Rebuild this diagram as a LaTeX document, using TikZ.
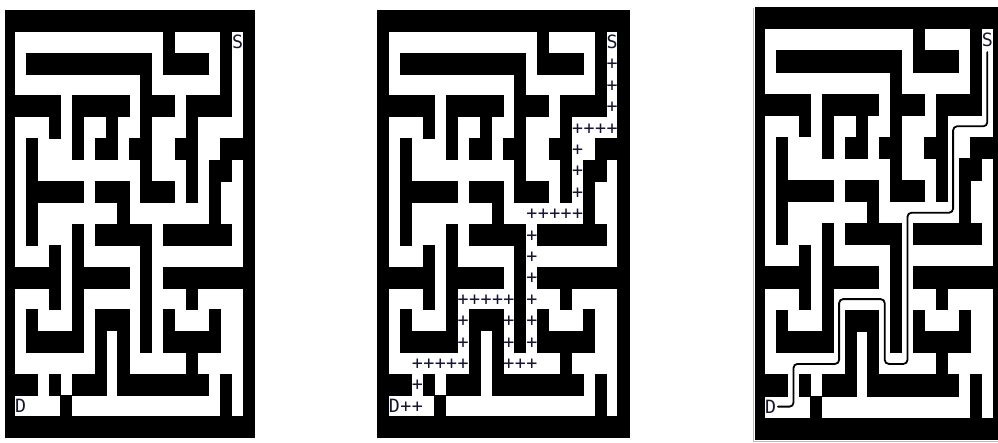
\documentclass[tikz,border=0pt]{standalone}
\usepackage{fontspec}
\newfontfamily\mazefont{DejaVu Sans Mono}
\definecolor{ink}{RGB}{22,22,48}
\newcommand\mazerows{%
0/{0,...,21},%
1/{0,14,19,21},%
2/{0,2,3,4,5,6,7,8,9,10,11,12,14,15,16,17,19,21},%
3/{0,12,19,21},%
4/{0,1,2,3,4,6,7,8,9,10,12,13,14,16,17,18,19,21},%
5/{0,4,6,9,12,16,21},%
6/{0,2,6,8,9,11,12,15,16,19,20,21},%
7/{0,2,12,16,18,19,21},%
8/{0,2,3,4,5,6,8,9,10,12,13,14,16,18,21},%
9/{0,2,10,18,21},%
10/{0,2,6,8,9,10,11,12,14,15,16,17,18,19,21},%
11/{0,4,6,12,21},%
12/{0,1,2,3,4,6,7,8,9,10,12,14,15,16,17,18,19,20,21},%
13/{0,4,6,12,16,21},%
14/{0,2,6,8,9,10,12,14,18,21},%
15/{0,2,3,4,5,6,8,10,12,14,15,16,17,18,21},%
16/{0,8,10,16,21},%
17/{0,1,2,4,6,7,8,10,11,12,13,14,15,16,17,19,21},%
18/{0,5,19,21},%
19/{0,...,21}}
% #1 left of col 0, #2 left of col 1, #3 col width, #4 top, #5 row height
\newcommand\drawmaze[5]{%
  \foreach \r/\cl in \mazerows {%
    \foreach \c in \cl {%
      \pgfmathsetmacro\xl{ifthenelse(\c==0,#1,#2+#3*(\c-1))}%
      \pgfmathsetmacro\xr{#2+#3*\c}%
      \pgfmathsetmacro\yt{#4+#5*\r}%
      \pgfmathsetmacro\yb{#4+#5*(\r+1)}%
      \fill[wall] (\xl-0.3,\yt-0.3) rectangle (\xr+0.3,\yb+0.3);%
    }%
  }%
}
\newcommand\setpanel[4]{\def\PX{#1}\def\PW{#2}\def\PY{#3}\def\PH{#4}}
\newcommand\mzchar[4]{\node[mz] (#1) at ({\PX+\PW*(#2-0.5)},{\PY+\PH*#3+17}) {#4};}
\newcommand\mzcoord[3]{\coordinate (#1) at ({\PX+\PW*(#2-0.5)},{\PY+\PH*(#3+0.5)});}
\tikzset{
  wall/.style={fill=black},
  mz/.style={font=\mazefont\fontsize{18.3}{20}\selectfont, inner sep=0pt, anchor=base, text=ink},
  route/.style={draw=black, line width=1.8pt, rounded corners=4pt, line cap=round}
}
\begin{document}
\begin{tikzpicture}[x=1pt,y=-1pt]
\useasboundingbox (0,0) rectangle (998,442);
\fill[white] (0,0) rectangle (998,442);
\clip (0,0) rectangle (998,442);
% ---------- panel 1 ----------
\drawmaze{5}{15}{11.42}{10}{21.4}
\setpanel{15}{11.42}{10}{21.4}
\mzchar{S1}{20}{1}{S}
\mzchar{D1}{1}{18}{D}
% ---------- panel 2 ----------
\drawmaze{377.3}{388.75}{11.45}{10}{21.4}
\setpanel{388.75}{11.45}{10}{21.4}
\mzchar{S2}{20}{1}{S}
\mzchar{D2}{1}{18}{D}
\foreach \c/\r [count=\i] in {20/2,20/3,20/4,17/5,18/5,19/5,20/5,17/6,17/7,17/8,
  13/9,14/9,15/9,16/9,17/9,13/10,13/11,13/12,13/13,13/14,13/15,11/16,12/16,13/16,
  11/14,11/15,7/13,8/13,9/13,10/13,11/13,7/14,7/15,3/16,4/16,5/16,6/16,7/16,3/17,2/18,3/18}
  {\mzchar{p\i}{\c}{\r}{+}}
% ---------- panel 3 ----------
\draw[gray!55, line width=0.8pt] (753,7.5) -- (753,442);
\draw[gray!55, line width=0.8pt] (753,441.3) -- (998,441.3);
\drawmaze{755.5}{765}{11.4}{7.5}{21.6}
\setpanel{765}{11.4}{7.5}{21.6}
\mzchar{S3}{20}{1}{S}
\mzchar{D3}{1}{18}{D}
\mzcoord{q1}{20}{5}
\mzcoord{q2}{17}{5}
\mzcoord{q3}{17}{9}
\mzcoord{q4}{13}{9}
\mzcoord{q5}{13}{16}
\mzcoord{q6}{11}{16}
\mzcoord{q7}{11}{13}
\mzcoord{q8}{7}{13}
\mzcoord{q9}{7}{16}
\mzcoord{q10}{3}{16}
\draw[route] ([yshift=-6pt]S3.base) -- (q1) -- (q2) -- (q3) -- (q4) -- (q5) -- (q6) -- (q7) -- (q8) -- (q9) -- (q10) |- ([xshift=1.5pt]D3.east);
\end{tikzpicture}
\end{document}
